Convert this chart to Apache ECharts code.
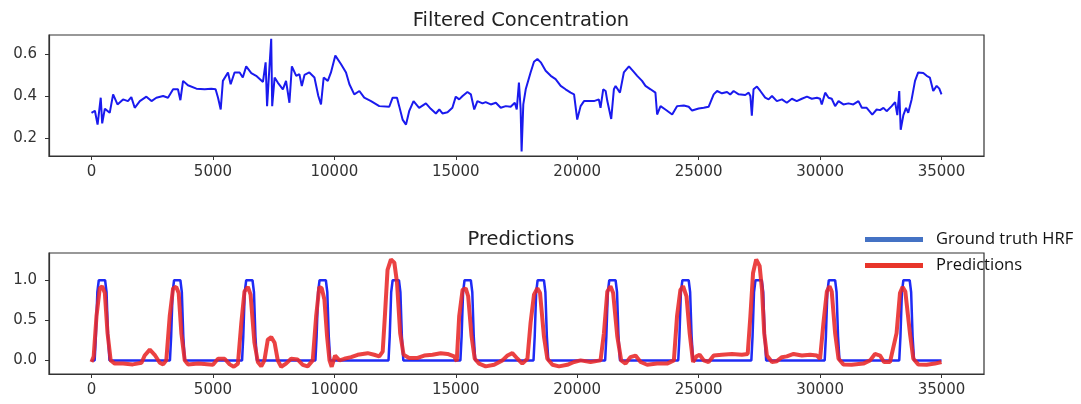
<!DOCTYPE html>
<html>
<head>
<meta charset="utf-8">
<script src="https://cdn.jsdelivr.net/npm/echarts@6/dist/echarts.min.js"></script>
<style>
html,body{margin:0;padding:0;background:#fff;}
#chart{width:1081px;height:404px;}
</style>
</head>
<body>
<div id="chart"></div>
<script>
// ---------- data ----------
const xTicks = [0, 5000, 10000, 15000, 20000, 25000, 30000, 35000];
const concTicks = [0.2, 0.4, 0.6];
const predTicks = [0.0, 0.5, 1.0];

const concentration = [
[0,0.32],[140,0.33],[250,0.264],[380,0.392],[440,0.27],[550,0.34],[750,0.32],[890,0.408],[1070,0.36],[1300,0.384],
[1500,0.376],[1640,0.395],[1780,0.344],[1990,0.376],[2260,0.397],[2470,0.376],[2670,0.392],[2950,0.40],[3150,0.392],[3360,0.432],
[3560,0.432],[3660,0.38],[3770,0.472],[3970,0.451],[4320,0.435],[4660,0.432],[4930,0.435],[5110,0.432],[5210,0.392],[5320,0.336],
[5410,0.472],[5620,0.512],[5730,0.456],[5890,0.512],[6100,0.512],[6230,0.488],[6370,0.541],[6580,0.509],[6780,0.496],[7060,0.467],
[7170,0.56],[7230,0.352],[7330,0.544],[7400,0.672],[7440,0.352],[7540,0.488],[7670,0.464],[7880,0.432],[8010,0.472],[8150,0.368],
[8250,0.541],[8430,0.496],[8560,0.504],[8660,0.448],[8770,0.50],[8970,0.512],[9180,0.488],[9340,0.40],[9450,0.36],[9560,0.488],
[9730,0.472],[9860,0.512],[10040,0.592],[10270,0.552],[10480,0.512],[10620,0.456],[10820,0.408],[11030,0.424],[11230,0.392],[11510,0.376],
[11850,0.352],[12260,0.349],[12400,0.392],[12580,0.392],[12670,0.352],[12810,0.288],[12950,0.264],[13080,0.328],[13260,0.376],[13490,0.344],
[13770,0.365],[13970,0.339],[14180,0.317],[14320,0.336],[14450,0.317],[14660,0.323],[14860,0.344],[15000,0.397],[15140,0.384],[15280,0.40],
[15480,0.419],[15620,0.408],[15760,0.336],[15890,0.376],[16100,0.365],[16230,0.371],[16440,0.36],[16650,0.368],[16850,0.344],[17060,0.352],
[17260,0.349],[17430,0.368],[17510,0.336],[17600,0.464],[17670,0.34],[17710,0.136],[17780,0.36],[17880,0.432],[18080,0.512],[18220,0.563],
[18360,0.576],[18500,0.56],[18700,0.52],[18910,0.496],[19110,0.48],[19320,0.448],[19520,0.432],[19730,0.416],[19870,0.408],[20000,0.288],
[20140,0.352],[20280,0.376],[20480,0.376],[20690,0.376],[20890,0.384],[20960,0.344],[21070,0.432],[21170,0.424],[21240,0.376],[21400,0.291],
[21510,0.432],[21580,0.448],[21760,0.416],[21920,0.512],[22130,0.541],[22330,0.515],[22470,0.496],[22670,0.472],[22810,0.448],[23020,0.432],
[23220,0.416],[23290,0.312],[23430,0.352],[23630,0.336],[23910,0.312],[24110,0.352],[24390,0.355],[24590,0.349],[24730,0.331],[25000,0.341],
[25210,0.344],[25410,0.349],[25620,0.408],[25760,0.424],[25960,0.413],[26170,0.419],[26300,0.407],[26440,0.424],[26650,0.408],[26920,0.405],
[27060,0.416],[27130,0.40],[27190,0.307],[27260,0.432],[27400,0.445],[27540,0.424],[27740,0.392],[27880,0.384],[28020,0.40],[28220,0.376],
[28430,0.384],[28630,0.368],[28840,0.387],[29040,0.376],[29250,0.387],[29460,0.397],[29660,0.387],[29870,0.392],[30000,0.387],[30070,0.36],
[30210,0.416],[30350,0.392],[30480,0.387],[30620,0.352],[30760,0.376],[30960,0.36],[31170,0.365],[31370,0.36],[31580,0.376],[31720,0.344],
[31920,0.344],[32150,0.312],[32330,0.336],[32470,0.333],[32610,0.344],[32740,0.328],[32950,0.352],[33090,0.371],[33180,0.309],[33260,0.424],
[33320,0.24],[33430,0.309],[33540,0.344],[33630,0.32],[33770,0.384],[33910,0.472],[34040,0.512],[34250,0.509],[34390,0.496],[34520,0.488],
[34660,0.424],[34800,0.448],[34910,0.435],[35000,0.408]
];

const groundTruth = [
[0,0],
[130,0],[180,0.3],[240,0.85],[300,1],[560,1],[620,0.85],[680,0.3],[740,0],
[3230,0],[3280,0.3],[3340,0.85],[3400,1],[3660,1],[3720,0.85],[3780,0.3],[3840,0],
[6200,0],[6250,0.3],[6310,0.85],[6370,1],[6630,1],[6690,0.85],[6750,0.3],[6810,0],
[9220,0],[9270,0.3],[9330,0.85],[9390,1],[9650,1],[9710,0.85],[9770,0.3],[9830,0],
[12230,0],[12280,0.3],[12340,0.85],[12400,1],[12660,1],[12720,0.85],[12780,0.3],[12840,0],
[15190,0],[15240,0.3],[15300,0.85],[15360,1],[15620,1],[15680,0.85],[15740,0.3],[15800,0],
[18200,0],[18250,0.3],[18310,0.85],[18370,1],[18630,1],[18690,0.85],[18750,0.3],[18810,0],
[21150,0],[21200,0.3],[21260,0.85],[21320,1],[21580,1],[21640,0.85],[21700,0.3],[21760,0],
[24160,0],[24210,0.3],[24270,0.85],[24330,1],[24590,1],[24650,0.85],[24710,0.3],[24770,0],
[27170,0],[27220,0.3],[27280,0.85],[27340,1],[27600,1],[27660,0.85],[27720,0.3],[27780,0],
[30190,0],[30240,0.3],[30300,0.85],[30360,1],[30620,1],[30680,0.85],[30740,0.3],[30800,0],
[33260,0],[33310,0.3],[33370,0.85],[33430,1],[33690,1],[33750,0.85],[33810,0.3],[33870,0],
[35000,0]
];

const predictions = [
[0,-0.02],[90,0.05],[205,0.55],[340,0.90],[440,0.925],[550,0.84],[660,0.34],[790,0.0],[960,-0.04],[1300,-0.04],
[1700,-0.05],[2060,-0.03],[2190,0.06],[2400,0.134],[2600,0.07],[2810,-0.03],[2950,-0.05],[3080,0.0],[3220,0.55],[3360,0.90],
[3490,0.917],[3590,0.84],[3700,0.34],[3840,0.0],[3970,-0.05],[4400,-0.04],[5000,-0.055],[5210,0.02],[5480,0.02],[5690,-0.05],
[5860,-0.08],[6030,-0.04],[6170,0.47],[6300,0.86],[6440,0.917],[6550,0.82],[6710,0.22],[6850,-0.02],[6990,-0.075],[7120,0.0],
[7260,0.26],[7400,0.29],[7540,0.22],[7670,0.0],[7810,-0.08],[8010,-0.04],[8220,0.02],[8490,0.01],[8700,-0.055],[8900,-0.075],
[9110,0.0],[9250,0.55],[9380,0.917],[9480,0.90],[9590,0.76],[9700,0.30],[9800,0.0],[9890,-0.08],[10030,0.06],[10210,0.0],
[10410,0.02],[10690,0.04],[10960,0.07],[11370,0.09],[11640,0.07],[11850,0.05],[11990,0.11],[12080,0.55],[12190,1.13],[12330,1.26],
[12470,1.22],[12580,0.97],[12710,0.34],[12850,0.07],[13080,0.03],[13430,0.03],[13700,0.06],[14040,0.07],[14380,0.09],[14660,0.08],
[14930,0.05],[15040,-0.01],[15140,0.55],[15280,0.88],[15410,0.90],[15510,0.80],[15650,0.30],[15780,0.02],[15960,-0.04],[16230,-0.075],
[16580,-0.055],[16920,0.0],[17130,0.06],[17330,0.09],[17540,0.02],[17740,-0.04],[17950,0.02],[18080,0.47],[18220,0.82],[18360,0.90],
[18470,0.84],[18630,0.30],[18770,0.02],[18980,-0.055],[19250,-0.075],[19590,-0.055],[19870,-0.02],[20140,0.0],[20550,-0.02],[20960,0.0],
[21100,0.34],[21240,0.86],[21370,0.925],[21480,0.84],[21650,0.30],[21810,0.0],[21990,-0.04],[22190,0.04],[22400,0.06],[22610,-0.02],
[22880,-0.055],[23290,-0.04],[23700,-0.04],[23980,0.0],[24110,0.55],[24250,0.88],[24360,0.925],[24500,0.80],[24630,0.34],[24770,-0.02],
[24910,0.05],[25040,0.07],[25210,0.0],[25410,-0.02],[25620,0.06],[25960,0.07],[26370,0.08],[26780,0.07],[27020,0.08],[27130,0.55],
[27240,1.09],[27370,1.26],[27510,1.18],[27610,0.88],[27700,0.34],[27810,0.06],[28020,-0.02],[28220,-0.01],[28430,0.04],[28630,0.05],
[28910,0.08],[29250,0.06],[29590,0.07],[29870,0.06],[30000,0.02],[30140,0.47],[30280,0.86],[30390,0.925],[30480,0.86],[30620,0.34],
[30760,0.02],[30960,-0.05],[31300,-0.055],[31780,-0.04],[32060,0.0],[32260,0.08],[32470,0.06],[32630,-0.02],[32880,-0.02],[33150,0.34],
[33290,0.84],[33400,0.917],[33510,0.86],[33700,0.34],[33840,0.02],[34040,-0.05],[34390,-0.055],[34730,-0.04],[35000,-0.02]
];

// ---------- chart ----------
const chart = echarts.init(document.getElementById('chart'), null, {renderer: 'canvas'});
const axisFont = {fontFamily: 'DejaVu Sans', fontSize: 15, color: '#333'};

function xAxisCfg(gi) {
  return {
    type: 'value', gridIndex: gi, min: -1750, max: 36750,
    axisLine: {show: true, onZero: false, lineStyle: {color: '#333', width: 1.2}},
    axisTick: {show: true, length: 4, customValues: xTicks, lineStyle: {color: '#333'}},
    axisLabel: Object.assign({margin: 9, customValues: xTicks, formatter: v => String(v)}, axisFont),
    splitLine: {show: false}
  };
}
function yAxisCfg(gi, mn, mx, ticks) {
  return {
    type: 'value', gridIndex: gi, min: mn, max: mx,
    axisLine: {show: true, onZero: false, lineStyle: {color: '#333', width: 1.2}},
    axisTick: {show: true, length: 4, customValues: ticks, lineStyle: {color: '#333'}},
    axisLabel: Object.assign({margin: 12, customValues: ticks, formatter: v => v.toFixed(1)}, axisFont),
    splitLine: {show: false}
  };
}

chart.setOption({
  animation: false,
  backgroundColor: '#fff',
  title: [
    {text: 'Filtered Concentration', left: 516, top: 6, textAlign: 'center',
     textStyle: {fontFamily: 'DejaVu Sans', fontSize: 19.5, fontWeight: 'normal', color: '#222'}},
    {text: 'Predictions', left: 516, top: 225, textAlign: 'center',
     textStyle: {fontFamily: 'DejaVu Sans', fontSize: 19.5, fontWeight: 'normal', color: '#222'}}
  ],
  legend: {
    orient: 'vertical', left: 860, top: 226, icon: 'rect', itemWidth: 58, itemHeight: 5, itemGap: 9,
    textStyle: {fontFamily: 'Open Sans', fontSize: 16.5, color: '#111', padding: [0, 0, 0, 8]},
    data: [
      {name: 'Ground truth HRF', itemStyle: {color: '#4472c4'}},
      {name: 'Predictions', itemStyle: {color: '#e8352a'}}
    ]
  },
  grid: [
    {left: 49, right: 97, top: 35, height: 121, show: true, borderColor: '#333', borderWidth: 1.2},
    {left: 49, right: 97, top: 253, height: 121, show: true, borderColor: '#333', borderWidth: 1.2}
  ],
  xAxis: [xAxisCfg(0), xAxisCfg(1)],
  yAxis: [yAxisCfg(0, 0.115, 0.69, concTicks), yAxisCfg(1, -0.17, 1.34, predTicks)],
  series: [
    {name: 'Filtered Concentration', type: 'line', xAxisIndex: 0, yAxisIndex: 0, data: concentration,
     showSymbol: false, lineStyle: {color: '#1a1aee', width: 2}},
    {name: 'Ground truth HRF', type: 'line', xAxisIndex: 1, yAxisIndex: 1, data: groundTruth,
     showSymbol: false, lineStyle: {color: '#1f2bf5', width: 2.5}, itemStyle: {color: '#4472c4'}},
    {name: 'Predictions', type: 'line', xAxisIndex: 1, yAxisIndex: 1, data: predictions,
     showSymbol: false, lineStyle: {color: '#e82828', width: 4, opacity: 0.88}, itemStyle: {color: '#e8352a'}}
  ]
});
</script>
</body>
</html>
